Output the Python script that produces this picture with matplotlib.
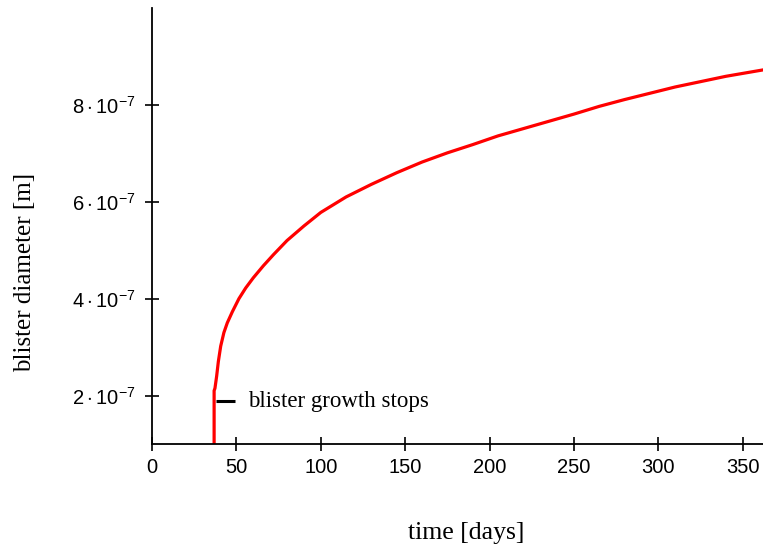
import matplotlib
matplotlib.use("Agg")
import matplotlib.pyplot as plt

# Data (time in days, blister diameter in metres)
time_days = [36.8, 36.8, 37.3, 38.3, 39.3, 40.7, 42.6, 44.6, 47.6, 51.5, 55.5, 60.0,
             66.0, 72.0, 80.0, 90.0, 100.0, 115.0, 130.0, 145.0, 160.0, 175.0, 190.0,
             205.0, 220.0, 235.0, 250.0, 265.0, 280.0, 295.0, 310.0, 325.0, 340.0,
             355.0, 365.0]
diameter_m = [0.5e-7, 2.10e-7, 2.15e-7, 2.40e-7, 2.70e-7, 3.02e-7, 3.30e-7, 3.50e-7,
              3.73e-7, 4.00e-7, 4.22e-7, 4.43e-7, 4.68e-7, 4.91e-7, 5.20e-7, 5.50e-7,
              5.78e-7, 6.10e-7, 6.36e-7, 6.60e-7, 6.82e-7, 7.01e-7, 7.18e-7, 7.36e-7,
              7.51e-7, 7.66e-7, 7.81e-7, 7.97e-7, 8.11e-7, 8.24e-7, 8.37e-7, 8.48e-7,
              8.59e-7, 8.68e-7, 8.74e-7]

x_ticks = [0, 50, 100, 150, 200, 250, 300, 350]
y_ticks = [2e-7, 4e-7, 6e-7, 8e-7]
y_tick_labels = [r"$2\cdot10^{-7}$", r"$4\cdot10^{-7}$", r"$6\cdot10^{-7}$", r"$8\cdot10^{-7}$"]

annotation_text = "blister growth stops"
annotation_t = 36.8
annotation_d = 1.88e-7

plt.rcParams["mathtext.fontset"] = "custom"
plt.rcParams["mathtext.rm"] = "Liberation Sans"
plt.rcParams["mathtext.it"] = "Liberation Sans"
plt.rcParams["mathtext.bf"] = "Liberation Sans"

fig = plt.figure(figsize=(7.63, 5.51), dpi=100)
ax = fig.add_axes([152 / 763, (551 - 444) / 551, (763 - 152) / 763, (444 - 8) / 551])

ax.plot(time_days, diameter_m, color="#ff0000", lw=2.3, solid_capstyle="butt",
        solid_joinstyle="round")

ax.set_xlim(0, 362)
ax.set_ylim(1e-7, 1e-6)

ax.set_xticks(x_ticks)
ax.set_xticklabels([str(v) for v in x_ticks], fontfamily="Liberation Sans", fontsize=14.5)
ax.set_yticks(y_ticks)
ax.set_yticklabels(y_tick_labels, fontsize=14.5)

for side in ["top", "right"]:
    ax.spines[side].set_visible(False)
for side in ["left", "bottom"]:
    ax.spines[side].set_linewidth(1.3)
    ax.spines[side].set_color("#000000")

ax.tick_params(axis="both", direction="inout", length=10, width=1.2, colors="black", pad=5)
ax.tick_params(axis="y", pad=7)

# annotation marker and text
ax.plot([annotation_t + 1.0, annotation_t + 12.5], [annotation_d, annotation_d],
        color="black", lw=2.2, solid_capstyle="butt")
ax.text(annotation_t + 20, annotation_d, annotation_text, fontfamily="Liberation Serif",
        fontsize=16.5, va="center", ha="left", color="black")

ax.set_xlabel("time [days]", fontfamily="Liberation Serif", fontsize=18.5)
ax.set_ylabel("blister diameter [m]", fontfamily="Liberation Serif", fontsize=18)
ax.xaxis.set_label_coords((466 - 152) / 611, (444 - 522) / 436)
ax.yaxis.set_label_coords((36 - 152) / 611, (444 - 272) / 436)

fig.savefig("out.png", dpi=100)
